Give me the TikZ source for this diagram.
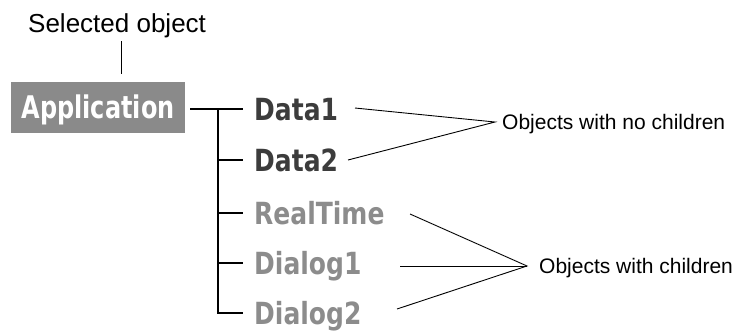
\documentclass[tikz,border=0pt]{standalone}
\usepackage{fontspec}
\setmainfont{Liberation Sans}
\newfontfamily\treefont{DejaVu Sans}
\usetikzlibrary{calc}
\definecolor{boxgray}{HTML}{8A8A8A}
\definecolor{darklbl}{HTML}{3C3C3C}
\definecolor{lightlbl}{HTML}{8C8C8C}
\newcommand{\tallA}[1]{\scalebox{1}[1.22]{#1}}
\newcommand{\tallB}[1]{\scalebox{1}[1.3]{#1}}
\begin{document}
\begin{tikzpicture}[x=1pt,y=-1pt,
  treeline/.style={line width=2pt,black},
  callout/.style={line width=0.9pt,black},
  treelbl/.style={inner sep=0pt,anchor=base west,text height=22pt,text depth=0pt,
     font=\treefont\bfseries\fontsize{25}{25}\selectfont},
  notelbl/.style={inner ysep=0pt,anchor=west,text height=15pt,text depth=0pt,
     font=\fontsize{21}{21}\selectfont}]
\useasboundingbox (0,0) rectangle (738,330);
% selected object
\node[inner sep=0pt,anchor=base west,font=\fontsize{26}{26}\selectfont] (sel) at (28,32) {Selected object};
\coordinate (s1) at (121,41);
\coordinate (s2) at (121,74);
\draw[callout] (s1) -- (s2);
% application box
\node[fill=boxgray,minimum width=174pt,minimum height=51pt,inner sep=0pt,
      text height=21pt,text depth=0pt,text=white,
      font=\treefont\bfseries\fontsize{24}{24}\selectfont] (app) at (98,107.5) {\tallB{Application}};
% tree labels
\node[treelbl,text=darklbl] (d1) at (254,120) {\tallA{Data1}};
\node[treelbl,text=darklbl] (d2) at (254,171) {\tallA{Data2}};
\node[treelbl,text=lightlbl] (d3) at (254,224) {\tallA{RealTime}};
\node[treelbl,text=lightlbl] (d4) at (254,274) {\tallA{Dialog1}};
\node[treelbl,text=lightlbl] (d5) at (254,324) {\tallA{Dialog2}};
% tree lines
\draw[treeline] ($(app.east |- d1.west)+(5,0)$) -- ($(d1.west)+(-11,0)$);
\draw[treeline] ($(d1.west)+(-36,0)$) -- ($(d5.west)+(-36,0)$) -- ($(d5.west)+(-11,0)$);
\foreach \n in {d2,d3,d4}
  \draw[treeline] ($(\n.west)+(-36,0)$) -- ($(\n.west)+(-11,0)$);
% callouts
\node[notelbl,inner xsep=7pt] (nochild) at (495,122) {Objects with no children};
\node[notelbl,inner xsep=12pt] (withchild) at (527,266) {Objects with children};
\coordinate (c1) at (355,108);
\coordinate (c2) at (348,160);
\coordinate (c3) at (410,214);
\coordinate (c4) at (400,266);
\coordinate (c5) at (397,309);
\draw[callout] (c1) -- (nochild.west) -- (c2);
\draw[callout] (c3) -- (withchild.west) -- (c5);
\draw[callout] (c4) -- (withchild.west);
\end{tikzpicture}
\end{document}
